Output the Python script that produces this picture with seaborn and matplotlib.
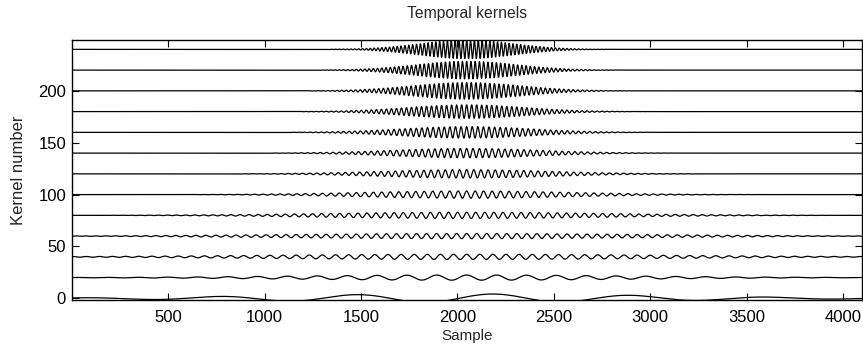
import numpy as np
import pandas as pd
import matplotlib
matplotlib.use("Agg")
import matplotlib.pyplot as plt
import seaborn as sns

# ---- data (per-kernel parameters) ----
n_samples = 4096
kernel_offsets = [0, 20, 40, 60, 80, 100, 120, 140, 160, 180, 200, 220, 240]
kernel_periods = [710, 155, 68, 52, 47, 44, 37, 33, 29, 26, 24, 22, 20]       # samples per cycle
kernel_centers = [2185, 2048, 2048, 2048, 2048, 2048, 2048, 2048, 2048, 2048, 2048, 2048, 2048]
kernel_env_center = [2048] * 13
kernel_sigmas = [1000, 850, 1000, 900, 700, 520, 430, 370, 330, 300, 280, 260, 240]
kernel_amps = [4.2, 2.5, 2.5, 2.5, 3.0, 3.5, 4.0, 4.5, 5.5, 6.5, 8.0, 8.5, 9.0]
x_ticks = [500, 1000, 1500, 2000, 2500, 3000, 3500, 4000]
y_ticks = [0, 50, 100, 150, 200]

sns.set_style("ticks")
plt.rcParams['font.family'] = ['Liberation Sans', 'DejaVu Sans']
plt.rcParams['xtick.direction'] = 'in'
plt.rcParams['ytick.direction'] = 'in'

fig = plt.figure(figsize=(8.63, 3.45), dpi=100)
ax = fig.add_axes([0.083, 0.1304, 0.9155, 0.7536])

t = np.arange(0, n_samples)
frames = []
for k, off in enumerate(kernel_offsets):
    env = np.exp(-0.5 * ((t - kernel_env_center[k]) / kernel_sigmas[k]) ** 2)
    y = off + kernel_amps[k] * env * np.cos(2 * np.pi * (t - kernel_centers[k]) / kernel_periods[k])
    frames.append(pd.DataFrame({"Sample": t, "value": y, "kernel": k}))
df = pd.concat(frames, ignore_index=True)

for k in range(len(kernel_offsets)):
    sub = df[df["kernel"] == k]
    sns.lineplot(data=sub, x="Sample", y="value", color="black", linewidth=0.9,
                 estimator=None, ax=ax, legend=False)

ax.set_xlim(0, n_samples)
ax.set_ylim(-1.6, 249)
ax.set_xticks(x_ticks)
ax.set_yticks(y_ticks)
ax.tick_params(axis='both', which='both', direction='in', top=True, right=True,
               length=5, width=0.8, labelsize=12, colors='black')
ax.tick_params(axis='x', pad=7)
ax.tick_params(axis='y', pad=4)
for s in ax.spines.values():
    s.set_visible(True)
    s.set_linewidth(1.0)
    s.set_color('black')
ax.set_xlabel("Sample", fontsize=11, labelpad=3)
ax.set_ylabel("Kernel number", fontsize=12, labelpad=9)
ax.set_title("Temporal kernels", fontsize=11.3, pad=16)

fig.savefig("out.png", dpi=100)
